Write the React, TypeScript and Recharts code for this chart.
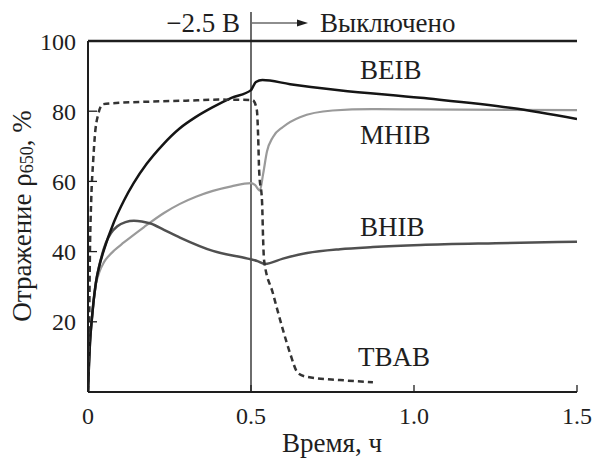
import React from 'react';
import { LineChart, Line, XAxis, YAxis, ReferenceLine } from 'recharts';

// time, h
const beibT = [0, 0.003, 0.006, 0.012, 0.024, 0.035, 0.049, 0.08, 0.11, 0.14, 0.18, 0.23, 0.28, 0.33, 0.38, 0.44, 0.5, 0.505, 0.515, 0.535, 0.62, 0.77, 1.02, 1.3, 1.5];
// reflectance at 650 nm, %
const beibR = [0, 8, 14, 21, 31, 36, 40.5, 48.5, 54.5, 59.5, 65, 70.5, 75, 78.3, 81, 83.8, 86, 86.8, 88.3, 88.9, 87.7, 86, 83.8, 80.9, 77.8];

const mhibT = [0, 0.003, 0.006, 0.012, 0.024, 0.035, 0.049, 0.065, 0.08, 0.11, 0.172, 0.233, 0.282, 0.333, 0.383, 0.44, 0.5, 0.512, 0.527, 0.537, 0.549, 0.567, 0.598, 0.65, 0.75, 0.87, 1.0, 1.5];
const mhibR = [0, 8, 14, 21, 30.5, 34.2, 37, 38.9, 40.3, 42.6, 47, 51, 53.6, 55.7, 57.3, 58.6, 59.5, 59, 57.4, 62, 68.5, 72.6, 75.5, 78.3, 80.2, 80.6, 80.5, 80.3];

const bhibT = [0, 0.003, 0.006, 0.012, 0.024, 0.04, 0.055, 0.07, 0.09, 0.115, 0.141, 0.165, 0.192, 0.233, 0.282, 0.383, 0.49, 0.52, 0.543, 0.598, 0.672, 0.773, 0.874, 1.02, 1.25, 1.5];
const bhibR = [0, 8, 14, 21, 31, 38, 42.5, 45.2, 47.2, 48.4, 48.8, 48.6, 48, 46.2, 44, 40.2, 38, 37.3, 36.5, 38, 39.6, 40.7, 41.3, 41.9, 42.4, 42.8];

const tbabT = [0, 0.003, 0.006, 0.01, 0.016, 0.021, 0.031, 0.046, 0.1, 0.18, 0.3, 0.4, 0.5, 0.506, 0.518, 0.522, 0.525, 0.534, 0.537, 0.54, 0.567, 0.598, 0.62, 0.644, 0.672, 0.773, 0.874];
const tbabR = [0, 15, 40, 55, 66, 73, 79, 82, 82.4, 82.7, 83, 83.3, 83.2, 83.1, 80.3, 72.6, 63, 54, 44, 37.6, 28.2, 17.7, 11, 5.4, 4.3, 3.4, 2.8];

const xTicks = [0, 0.5, 1.0, 1.5];
const yTicks = [20, 40, 60, 80, 100];
const switchTime = 0.5;

const seriesNames = ['BEIB', 'MHIB', 'BHIB', 'TBAB'];

const toPoints = (t: number[], r: number[]) => t.map((x, i) => ({ t: x, r: r[i] }));

const FONT = '"Liberation Serif", "Times New Roman", serif';
const INK = '#1e1e1e';

// vertical switch-off marker: line runs above the frame, with voltage and arrow
const SwitchLabel = (props: any) => {
  const { viewBox } = props;
  const vx = viewBox.x;
  const top = viewBox.y;
  const ay = top - 18;
  return (
    <g fontFamily={FONT} fontSize={27} fill={INK}>
      <line x1={vx} x2={vx} y1={12} y2={top} stroke={INK} strokeWidth={1.3} />
      <text x={vx - 11} y={ay} textAnchor="end" dominantBaseline="central">−2.5 В</text>
      <line x1={vx + 1} x2={vx + 50} y1={ay} y2={ay} stroke={INK} strokeWidth={1.2} />
      <path d={`M${vx + 46},${ay - 3.5} L${vx + 57},${ay} L${vx + 46},${ay + 3.5} Z`} fill={INK} />
      <text x={vx + 69} y={ay} dominantBaseline="central">Выключено</text>
    </g>
  );
};

export default function App() {
  return (
    <div style={{ width: 596, height: 458 }}>
      <style>{'body{margin:0}'}</style>
      <LineChart width={596} height={458} margin={{ top: 41, right: 19, bottom: 0, left: 0 }}>
        <XAxis
          dataKey="t"
          type="number"
          domain={[0, 1.5]}
          ticks={xTicks}
          tickFormatter={(v: number) => (v === 0 ? '0' : v.toFixed(1))}
          height={66}
          allowDataOverflow
          axisLine={{ stroke: INK, strokeWidth: 2 }}
          tickLine={{ stroke: INK, strokeWidth: 1.3 }}
          tickSize={-7}
          tickMargin={22}
          tick={{ fill: INK, fontFamily: FONT, fontSize: 24 }}
        />
        <YAxis
          type="number"
          domain={[0, 100]}
          ticks={yTicks}
          width={88}
          axisLine={{ stroke: INK, strokeWidth: 2 }}
          tickLine={{ stroke: INK, strokeWidth: 1.3 }}
          tickSize={-9}
          tickMargin={21}
          tick={{ fill: INK, fontFamily: FONT, fontSize: 24 }}
        />
        <ReferenceLine y={100} stroke={INK} strokeWidth={2.5} />
        <ReferenceLine x={switchTime} stroke={INK} strokeWidth={1.3} label={<SwitchLabel />} />
        <Line data={toPoints(mhibT, mhibR)} dataKey="r" type="monotone" stroke="#9a9a9a" strokeWidth={2.2} dot={false} isAnimationActive={false} />
        <Line data={toPoints(bhibT, bhibR)} dataKey="r" type="monotone" stroke="#505050" strokeWidth={2.5} dot={false} isAnimationActive={false} />
        <Line data={toPoints(beibT, beibR)} dataKey="r" type="monotone" stroke="#151515" strokeWidth={2.5} dot={false} isAnimationActive={false} />
        <Line data={toPoints(tbabT, tbabR)} dataKey="r" type="monotone" stroke="#333333" strokeWidth={2.5} strokeDasharray="6 4" dot={false} isAnimationActive={false} />
        <g fontFamily={FONT} fontSize={27} fill={INK}>
          <text x={360} y={70} dominantBaseline="central">{seriesNames[0]}</text>
          <text x={360} y={135} dominantBaseline="central">{seriesNames[1]}</text>
          <text x={360} y={227} dominantBaseline="central">{seriesNames[2]}</text>
          <text x={358} y={357} dominantBaseline="central">{seriesNames[3]}</text>
          <text x={332} y={443} textAnchor="middle" dominantBaseline="central">Время, ч</text>
          <text x={22} y={216} textAnchor="middle" dominantBaseline="central" transform="rotate(-90, 22, 216)">
            Отражение ρ<tspan fontSize={18} dy={5}>650</tspan>
            <tspan dy={-5}>, %</tspan>
          </text>
        </g>
      </LineChart>
    </div>
  );
}
